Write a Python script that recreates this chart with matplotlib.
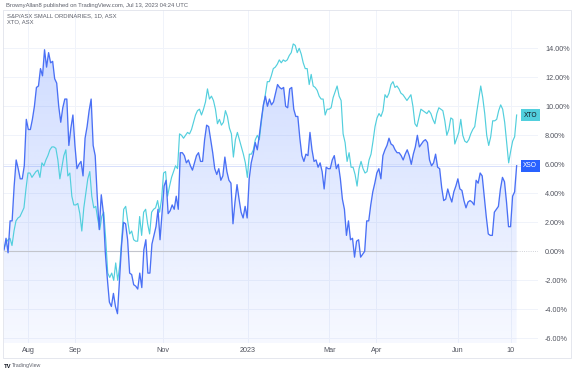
import matplotlib.pyplot as plt
import matplotlib.patches as mpatches
import matplotlib.transforms as mtransforms
import numpy as np
import pandas as pd

# % change since mid Jul 2022 (daily bars)
xso = [0.1, 0.9, -0.1, 2.1, 2.1, 4.5, 6.3, 5.7, 5.0, 5.0, 5.9, 9.1, 8.4, 8.4, 9.1, 10.0,
       11.3, 11.4, 12.6, 12.1, 13.9, 12.7, 13.7, 13.0, 13.1, 11.9, 11.6, 10.0, 8.9, 9.9,
       10.5, 10.5, 7.3, 8.5, 9.4, 7.3, 5.7, 6.0, 6.2, 5.2, 7.8, 8.6, 9.7, 10.5, 7.3, 6.6,
       3.8, 1.5, 3.9, 2.7, -0.1, -1.9, -3.5, -3.8, -2.9, -3.8, -4.3, -1.9, 0.4, 2.0, 1.9,
       0.8, -1.5,
       -1.6, -2.3, -2.4, -2.6, -1.5, -2.5, 0.1, 0.8, -1.5, -1.5, 0.5, 1.1, 1.7, 2.9, 0.8,
       2.7, 4.5, 4.9, 2.6, 2.8, 3.2, 2.9, 3.8, 2.9, 6.8, 6.8, 6.6, 6.1, 6.3, 5.9, 5.6, 6.1,
       6.6, 6.8, 6.2, 6.2, 7.7, 8.7, 8.6, 7.7, 6.8, 5.7, 5.3, 5.7, 4.9, 5.2, 6.5, 5.5, 4.9,
       4.7, 1.9, 3.4, 4.6, 3.6, 2.7, 2.3, 3.1, 2.3, 5.0, 6.1, 6.7, 7.5, 7.0,
       8.0, 9.1, 10.1, 10.7, 10.0, 10.5, 10.1, 10.3, 10.9, 11.5, 11.3, 11.2, 11.3, 10.0, 9.9,
       11.2, 11.3, 9.8, 9.3, 9.3, 7.8, 6.6, 6.2, 6.7, 6.6, 8.2, 7.0, 6.2, 6.3, 5.8, 6.1, 5.5,
       4.3, 5.8, 5.7, 5.7, 6.3, 6.6, 5.7, 6.0, 5.0, 3.6, 2.9, 1.1, 2.1, 0.8, 0.9, -0.4, 0.7,
       0.8, -0.4, -0.2, 0.0, 2.1, 2.1, 3.2, 4.1, 4.7, 5.4, 5.7, 5.0, 6.6, 7.0, 7.3,
       7.8, 7.4, 7.3, 7.0, 6.8, 6.8, 6.6, 6.3, 6.7, 7.0, 6.6, 6.0, 6.7, 7.2, 8.0, 7.2, 7.4,
       7.6, 7.7, 7.5, 6.3, 5.9, 6.1, 6.7, 5.8, 5.7, 4.4, 3.5, 3.6, 4.3, 3.8, 3.4, 4.1, 4.5,
       5.0, 4.3, 4.2, 3.5, 3.0, 3.4, 3.5, 3.4, 3.2, 4.9, 4.7, 5.4, 5.2, 3.8, 2.4, 1.2, 1.1,
       1.1, 2.7, 2.9, 3.1, 4.3, 5.1, 4.8, 3.4, 1.7, 1.7, 3.8, 4.1, 5.9]

xto = [0.2, 0.6, 0.8, 0.9, 0.4, 1.4, 2.1, 2.3, 2.4, 2.7, 3.0, 4.3, 5.4, 5.4, 5.1, 5.3,
       5.5, 5.6, 5.1, 6.1, 5.9, 6.3, 6.6, 7.0, 7.2, 7.2, 7.1, 6.3, 5.0, 5.8, 6.6, 7.0, 5.2,
       5.4, 3.8, 3.2, 3.2, 3.3, 2.6, 1.4, 3.0, 4.0, 5.0, 5.5, 3.8, 3.0, 3.1, 2.2, 1.5, 2.4,
       2.7, 0.8, -1.5, -1.8, -1.5, -2.0, -0.8, -2.0, -1.0, 0.8, 2.9, 3.1, 2.1, 1.2,
       1.4, 0.8, 0.7, 0.7, 2.4, 1.1, 2.7, 2.9, 1.9, 1.2, 2.7, 2.9, 3.0, 3.5, 2.7, 3.6, 5.4,
       5.5, 3.8, 4.5, 5.1, 5.5, 5.9, 5.7, 8.1, 8.0, 7.8, 8.0, 8.2, 8.1, 8.4, 8.9, 9.4, 9.7,
       9.8, 9.4, 9.8, 10.3, 11.2, 10.5, 10.7, 10.4, 9.8, 8.8, 9.1, 8.7, 8.9, 9.7, 9.3, 8.5,
       8.1, 6.5, 7.7, 8.2, 7.7, 7.2, 6.7, 6.1, 5.1, 6.7, 6.7, 7.0, 7.7, 8.0, 7.7,
       8.9, 10.0, 10.8, 11.7, 11.7, 12.1, 12.6, 12.7, 12.9, 13.2, 13.0, 13.2, 13.1, 13.2,
       13.5, 13.7, 14.3, 14.2, 13.7, 14.0, 13.6, 13.0, 12.6, 12.6, 11.5, 12.2, 11.4, 11.3,
       11.1, 10.7, 10.5, 10.5, 9.4, 9.8, 9.8, 9.9, 10.6, 11.0, 11.4, 10.7, 10.4, 8.1, 7.5,
       6.2, 6.8, 5.8, 5.8, 5.3, 4.5, 5.7, 6.2, 5.7, 5.4, 5.5, 6.3, 6.7, 7.6, 8.6, 9.2, 9.5,
       9.3, 9.7, 10.8, 10.6, 10.9,
       11.5, 11.7, 11.3, 11.4, 11.2, 10.9, 10.8, 10.6, 10.4, 10.6, 10.8, 10.0, 8.8, 8.6,
       9.2, 9.8, 9.7, 9.6, 9.5, 9.7, 9.5, 9.1, 8.8, 9.5, 9.9, 9.8, 9.7, 9.0, 8.0, 8.4, 9.2,
       9.1, 7.4, 7.8, 8.2, 9.1, 8.0, 7.6, 7.5, 7.7, 8.1, 8.4, 8.6, 9.6, 10.5, 11.4, 10.6,
       9.5, 8.0, 7.3, 7.9, 9.0, 9.0, 9.1, 9.7, 10.1, 9.8, 8.9, 7.5, 6.1, 6.9, 7.6, 7.9, 9.4]

asx_holidays = ['2022-12-26', '2022-12-27', '2023-01-02', '2023-01-26',
                '2023-04-07', '2023-04-10', '2023-04-25', '2023-06-12']
month_ticks = ['2022-08-01', '2022-09-01', '2022-11-01', '2023-01-03',
               '2023-03-01', '2023-04-03', '2023-06-01', '2023-07-10']
month_labels = ['Aug', 'Sep', 'Nov', '2023', 'Mar', 'Apr', 'Jun', '10']
y_ticks = [-6, -4, -2, 0, 2, 4, 6, 8, 10, 12, 14]

XSO_C = '#4a70f5'
XTO_C = '#52cfdd'
GRID_C = '#f0f3fa'
TXT_C = '#50535e'

dates = pd.bdate_range('2022-07-14', '2023-07-13')
dates = dates[~dates.isin(pd.to_datetime(asx_holidays))]
n = len(dates)
tick_pos = [dates.searchsorted(pd.Timestamp(d)) for d in month_ticks]

x_xso = np.linspace(0, n - 1, len(xso))
x_xto = np.linspace(0, n - 1, len(xto))

plt.rcParams['font.family'] = ['Liberation Sans', 'DejaVu Sans']

W, H = 575, 373
fig = plt.figure(figsize=(W / 100, H / 100), dpi=100)
ax = fig.add_axes([3 / W, 1 - 343 / H, (538 - 3) / W, (343 - 10) / H])

xlim = (-0.5, 262.5)
ylim = (-6.32, 16.64)
ax.set_xlim(*xlim)
ax.set_ylim(*ylim)

# grid
for yv in y_ticks:
    if yv != 0:
        ax.axhline(yv, color=GRID_C, lw=0.7, zorder=0)
for p in tick_pos:
    ax.axvline(p, color=GRID_C, lw=0.7, zorder=0)

# gradient area under XSO
fill = ax.fill_between(x_xso, xso, ylim[0], color='none', lw=0)
grad = np.linspace(0.04, 0.22, 256).reshape(-1, 1)
rgba = np.zeros((256, 1, 4))
rgba[..., 0] = 41 / 255
rgba[..., 1] = 98 / 255
rgba[..., 2] = 255 / 255
rgba[..., 3] = grad
img = ax.imshow(rgba, origin='lower', aspect='auto',
                extent=[x_xso[0], x_xso[-1], ylim[0], max(xso)], zorder=1)
clip = fill.get_paths()[0]
img.set_clip_path(clip, transform=ax.transData)

# zero line: solid over data, dotted beyond
ax.hlines(0, x_xso[0], x_xso[-1], color='#c3c5cc', lw=0.8, zorder=2)
ax.hlines(0, x_xso[-1], xlim[1], color='#c3c5cc', lw=0.6, linestyles=':', zorder=2)
# last value line for XSO
ax.axhline(xso[-1], color=XSO_C, lw=0.6, alpha=0.25, zorder=2)

ax.plot(x_xto, xto, color=XTO_C, lw=0.85, zorder=3)
ax.plot(x_xso, xso, color=XSO_C, lw=0.95, zorder=4)

# value tags at the right edge
trans = mtransforms.blended_transform_factory(ax.transAxes, ax.transData)
ax.text(0.9985, xto[-1], 'XTO', transform=trans, ha='right', va='center', fontsize=4.8,
        color='#131722', zorder=5,
        bbox=dict(boxstyle='square,pad=0.35', fc=XTO_C, ec='none'))
ax.text(0.9985, xso[-1], 'XSO', transform=trans, ha='right', va='center', fontsize=4.8,
        color='white', zorder=5,
        bbox=dict(boxstyle='square,pad=0.35', fc='#2962ff', ec='none'))

# axes
ax.yaxis.tick_right()
ax.set_yticks(y_ticks)
ax.set_yticklabels(['%.2f%%' % v for v in y_ticks])
ax.set_xticks(tick_pos)
ax.set_xticklabels(month_labels)
ax.tick_params(axis='y', length=0, pad=5, labelsize=5.2, labelcolor=TXT_C)
ax.tick_params(axis='x', length=0, pad=3, labelsize=5.2, labelcolor=TXT_C)
for s in ax.spines.values():
    s.set_visible(False)

# outer frame
fig.patches.append(mpatches.Rectangle((3 / W, 1 - 358 / H), (571 - 3) / W, (358 - 10) / H,
                                      transform=fig.transFigure, fill=False,
                                      ec='#e0e3eb', lw=0.6))

fig.text(6 / W, 1 - 5 / H, 'BrownyAllan8 published on TradingView.com, Jul 13, 2023 04:24 UTC',
         fontsize=4.2, color='#5d606b', va='center')
fig.text(7 / W, 1 - 15.7 / H, 'S&P/ASX SMALL ORDINARIES, 1D, ASX',
         fontsize=4.2, color='#5d606b', va='center')
fig.text(7 / W, 1 - 21.5 / H, 'XTO, ASX', fontsize=4.2, color='#5d606b', va='center')
fig.text(4 / W, 1 - 366 / H, 'TV', fontsize=4.2, color='#131722', weight='bold', va='center')
fig.text(12 / W, 1 - 366 / H, 'TradingView', fontsize=3.8, color='#5d606b', va='center')

fig.savefig('out.png', dpi=100)
